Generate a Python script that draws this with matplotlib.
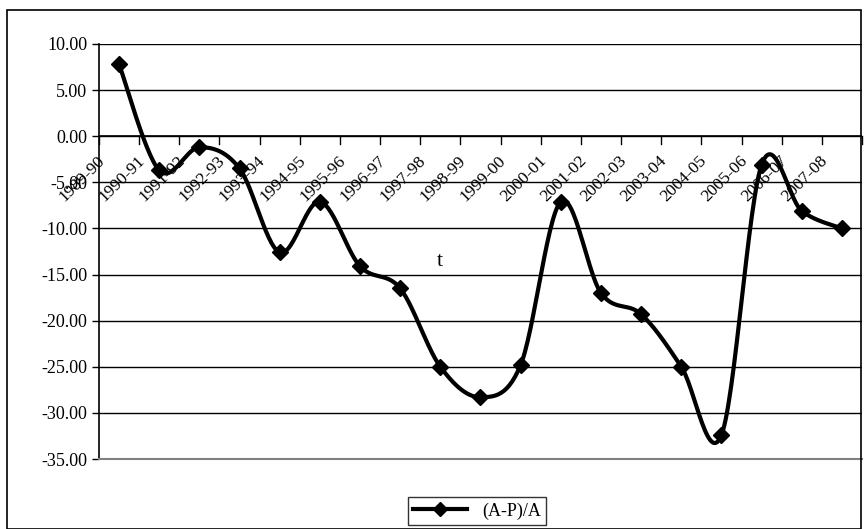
import numpy as np
import matplotlib.pyplot as plt
from matplotlib.patches import Rectangle

years = ['1989-90', '1990-91', '1991-92', '1992-93', '1993-94', '1994-95', '1995-96',
         '1996-97', '1997-98', '1998-99', '1999-00', '2000-01', '2001-02', '2002-03',
         '2003-04', '2004-05', '2005-06', '2006-07', '2007-08']
ratio = [7.8, -3.7, -1.2, -3.5, -12.6, -7.1, -14.1, -16.5, -25.0, -28.3, -24.8,
         -7.1, -17.0, -19.3, -25.0, -32.4, -3.1, -8.1, -10.0]

plt.rcParams['font.family'] = ['Liberation Serif', 'DejaVu Serif']


def smooth(x, y, n=30):
    # Catmull-Rom style curve through the points (Excel "smoothed line")
    x = np.asarray(x, float)
    y = np.asarray(y, float)
    px = np.concatenate([[x[0]], x, [x[-1]]])
    py = np.concatenate([[y[0]], y, [y[-1]]])
    xs, ys = [], []
    for i in range(1, len(px) - 2):
        t = np.linspace(0, 1, n)
        for p, out in ((px, xs), (py, ys)):
            p0, p1, p2, p3 = p[i - 1], p[i], p[i + 1], p[i + 2]
            m1 = (p2 - p0) / 2
            m2 = (p3 - p1) / 2
            h00 = 2 * t**3 - 3 * t**2 + 1
            h10 = t**3 - 2 * t**2 + t
            h01 = -2 * t**3 + 3 * t**2
            h11 = t**3 - t**2
            out.extend(h00 * p1 + h10 * m1 + h01 * p2 + h11 * m2)
    return np.array(xs), np.array(ys)


fig = plt.figure(figsize=(8.68, 5.29), dpi=100)
fig.patches.append(Rectangle((7 / 868, 0.0), 1 - 14 / 868, 1 - 10 / 529, transform=fig.transFigure,
                             fill=False, edgecolor='black', linewidth=1.2))
ax = fig.add_axes([99 / 868, 1 - 459 / 529, 763 / 868, 415 / 529])

x = np.arange(len(years))
sx, sy = smooth(x, ratio)
ax.plot(sx, sy, color='black', linewidth=3, zorder=3)
ax.plot(x, ratio, linestyle='none', marker='D', markersize=8.5, color='black', zorder=4)
# legend handle
h, = ax.plot([], [], color='black', linewidth=3, marker='D', markersize=7, label='(A-P)/A')

ax.set_xlim(-0.5, len(years) - 0.5)
ax.set_ylim(-35, 10)
ax.set_yticks(np.arange(-35, 11, 5))
ax.set_yticklabels([f'{v:.2f}' for v in np.arange(-35, 11, 5)], fontsize=13)
ax.yaxis.grid(True, color='black', linewidth=1)
ax.set_xticks([])
for s in ['top', 'right']:
    ax.spines[s].set_visible(False)
ax.spines['bottom'].set_color('gray')
ax.spines['bottom'].set_linewidth(1.5)
ax.spines['left'].set_linewidth(1.2)
ax.tick_params(axis='y', length=5, width=1)

# category axis crossing at zero
ax.axhline(0, color='black', linewidth=1.2)
for b in np.arange(-0.5, len(years), 1.0):
    ax.plot([b, b], [0, -0.8], color='black', linewidth=1, clip_on=False)
for i, yr in enumerate(years):
    ax.text(i - 0.42, -2.4, yr, rotation=45, rotation_mode='anchor', ha='right', va='center',
            fontsize=12.5)

ax.text(8.0, -13.6, 't', fontsize=16, ha='center', va='center')

fig.legend(handles=[h], loc='center', bbox_to_anchor=(477 / 868, 1 - 511 / 529), frameon=True,
           fancybox=False, edgecolor='black', fontsize=13, handlelength=3, borderpad=0.3)

fig.savefig('out.png', dpi=100)
